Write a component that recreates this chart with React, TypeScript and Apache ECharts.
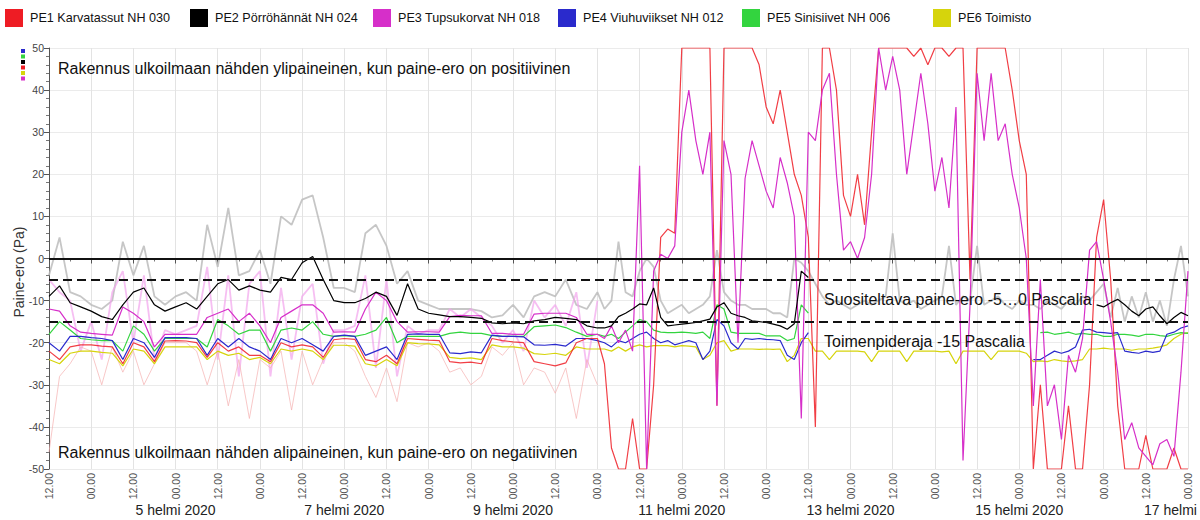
import { useEffect, useRef } from "react";
import * as echarts from "echarts";

// hours from 3 Feb 2020 12:00
const hoursEarly = [0,3,6,9,12,15,18,21,24,27,30,33,36,39,42,45,48,51,54,57,60,63,66,69,72,75,78,81,84,87,90,93,96,99,102,105,108,111,114,117,120,123,126,129,132,135,138,141,144,147,150,153,156];
const hoursLate = [158,160,162,164,166,168,170,172,174,176,178,180,182,184,186,188,190,192,194,196,198,200,202,204,206,208,210,212,214,216,218,220,222,224,226,228,230,232,234,236,238,240,242,244,246,248,250,252,254,256,258,260,262,264,266,268,270,272,274,276,278,280,282,284,286,288,290,292,294,296,298,300,302,304,306,308,310,312,314,316,318,320,322,324];

const seriesNames = ["PE1 Karvatassut NH 030", "PE2 Pörröhännät NH 024", "PE3 Tupsukorvat NH 018", "PE4 Viuhuviikset NH 012", "PE5 Sinisiivet NH 006", "PE6 Toimisto"];
const seriesColors = ["#ee1c24", "#000000", "#d62fc9", "#2a2acc", "#33d43f", "#d6d40c"];

const pe1Early = [-22,-24,-21,-20.5,-20.5,-20.8,-21,-25,-20,-21,-24.5,-19.6,-19.5,-19.6,-20,-23.5,-20,-22,-21,-23,-23,-24.5,-20,-21,-20.5,-21,-23.5,-19.3,-19,-19.2,-24,-24.5,-23,-25,-19,-19.2,-19.4,-19.5,-24.5,-24.8,-24.6,-25,-19,-19.5,-19.8,-20,-24.5,-25,-25.5,-24.8,-20,-19,-19];
const pe1Late = [-25,-45,-50,-50,-38,-50,-50,-30,5,7,6,50,50,50,50,50,-35,50,50,50,50,50,46,36,32,40,30,20,15,5,-40,50,50,40,15,10,20,8,30,50,50,50,50,50,48,50,46,50,50,48,50,50,-5,50,50,50,50,50,40,28,20,-50,-30,-50,-50,-50,-35,-50,-50,-30,5,14,-5,-35,-50,-50,-50,-42,-50,-50,-50,-45,-50,-50];

const pe2Early = [-9,-6.5,-10.5,-11.5,-12.5,-13.8,-14.5,-11,-8,-7,-11,-12.5,-11.5,-10.5,-12,-9,-6,-5,-7.5,-6.5,-7.5,-8,-4.5,-5,-1,0.5,-5,-10,-10.5,-10.5,-9.5,-8,-9,-13.5,-6,-12,-13,-13.4,-13.8,-13.8,-14,-14.2,-15.3,-15.5,-15.3,-15.5,-14.8,-14.5,-14,-14.2,-14.5,-16,-16.5];
const pe2Late = [-16.5,-16,-13.8,-13,-12,-10.8,-11,-7,-14,-16,-15.8,-15.6,-15.4,-15.2,-14.8,-14.4,-11.5,-10.5,-13,-13.6,-14,-14.8,-15,-15.2,-15.6,-16,-16.8,-15.5,-3,-4.5,
  null,null,null,null,null,null,null,null,null,null,null,null,null,null,null,null,null,null,null,null,
  null,null,null,null,null,null,null,null,null,null,null,null,null,null,null,null,null,null,null,null,
  -11,-11.5,-10.5,-9.7,-11,-12.5,-13.6,-12,-11.5,-13.6,-15.5,-14,-12.8,-13.6];

const pe3Early = [-12,-12.5,-16,-17.5,-17.8,-18,-18.2,-11.5,-13,-15,-21,-18,-18,-18,-18,-14,-13,-12,-15,-13,-16,-20,-14,-12.5,-11,-11,-13,-17.5,-17.4,-17.5,-12,-8,-10,-15,-17.5,-17.4,-17.4,-17.5,-13.8,-13.5,-13.6,-13.6,-17.8,-17.8,-18,-18,-13.2,-13,-13,-13,-14,-18,-18];
const pe3Late = [-19,-16,-20,-17,-22,22,-50,-3,1,0,3,30,40,28,20,30,-35,28,20,-20,19,28,22,16,12,24,18,10,-38,30,28,40,44,20,2,4,0,5,20,50,40,48,40,20,32,44,32,16,24,12,36,-48,-11,44,28,44,28,32,20,12,0,-35,-5,-35,-30,-43,-23,-27,-19,2,4,-5,-15,-27,-43,-39,-45,-47,-49,-44,-43,-47,-27,-3];

const pe4Early = [-20,-22,-18.5,-18.5,-18.8,-19,-19.5,-24,-19,-20,-23.5,-18.8,-18.8,-18.8,-19,-23,-19,-21,-19,-21,-22,-24,-19,-20,-19,-20.5,-22,-18.5,-18.2,-18.5,-23,-22,-21,-24,-18,-17.9,-18,-18,-22.4,-22.6,-22.2,-22.4,-18.2,-18.5,-18.5,-18.6,-20.5,-20.6,-20.4,-20.8,-19,-19,-19.5];
const pe4Late = [-20,-21,-19.5,-20,-19,-18,-17.5,-19,-20,-19.5,-20.5,-20,-19.5,-20,-24,-22,-14.5,-16,-20,-21.5,-19,-19.2,-19,-19.2,-19.3,-19.5,-23,-24,-20,-17.6,
  null,null,null,null,null,null,null,null,null,null,null,null,null,null,null,null,null,null,null,null,
  null,null,null,null,null,null,null,null,null,null,null,
  -24,-24,-23,-22,-22.5,-22,-21,-17,-16.8,-17.5,-17.6,-17.8,-17.6,-22,-22.3,-22.5,-22,-22.3,-22,-18,-17.5,-16.5,-16];

const pe5Early = [-18,-15,-17,-19,-19.3,-19.5,-19.5,-22,-16,-18,-22,-19,-19,-19,-19,-21,-14.5,-16,-18,-17,-17,-22,-17,-16.5,-17,-15,-18,-18.5,-18.3,-18.5,-18,-17,-14,-20,-18.5,-18.5,-18.5,-18.5,-17.8,-17.5,-17.8,-17.8,-18.3,-18.5,-18.5,-18.5,-16.2,-16,-15.8,-16.4,-17.5,-18.5,-18];
const pe5Late = [-18.5,-18,-19,-17.5,-16,-14.5,-15,-17,-17.5,-17.6,-17.6,-17.5,-17.6,-17.8,-17.5,-19,-11,-12,-17.5,-17.8,-17.8,-17.8,-17.8,-18.4,-18.4,-18.4,-19.5,-19,-11,-13,
  null,null,null,null,null,null,null,null,null,null,null,null,null,null,null,null,null,null,null,null,
  null,null,null,null,null,null,null,null,null,null,null,null,
  -17.6,-17.5,-18,-17.8,-17.5,-18,-17.8,-18,-18,-18.5,-18.5,-18,-18,-18.2,-18.5,-18,-18,-18.3,-18.5,-18,-17.6,-17.8];

const pe6Early = [-24,-25,-22.5,-22,-22,-22.3,-22.5,-25.5,-21.5,-22,-25,-21,-21,-21,-21,-24,-22,-23,-22.5,-24,-23.5,-25,-21.5,-22,-21.5,-22,-24,-20.6,-20.6,-20.8,-25,-25.5,-24,-25.5,-20,-20.2,-20.3,-20.5,-23.5,-23.8,-23.6,-24,-20.5,-21,-21,-21.3,-22.6,-22.8,-22.5,-23,-21,-21.5,-21.5];
const pe6Late = [-21.5,-22,-21,-22,-21,-20.5,-21,-20.7,-20.7,-20.7,-21,-20.7,-20.8,-21,-24,-23,-20,-19.5,-22,-21.5,-21.5,-21.5,-21.6,-21.5,-21.6,-21.5,-24.5,-23,-19,-19,-22,-22,-24,-22,-22,-22,-22,-22.2,-24.5,-22,-22,-22,-22,-24.5,-22,-22,-22,-22,-22.2,-22,-25,-22,-22,-22,-22,-24,-22,-22,-22,-22,-22.5,-24.5,-24.3,-24.5,-24,-24.3,-24.5,-24.3,-24,-21.5,-21.5,-21.3,-21.5,-21.5,-21.5,-21.8,-21.5,-21.5,-21.3,-21,-20.5,-19,-18,-17.6];

// faint raw readings
const pe2RawEarly = [-4,5,-8,-9,-11,-12,-10,4,-4,3,-9,-11,-9,-8,-10,8,-2,12,-4,-3,2,-6,10,8,14,15,5,-7,-7,-8,6,8,3,-6,-3,-10,-11,-12,-12,-12,-12,-12.5,-14,-13.5,-11,-14,-9,-8,-9,-5,-11,-12,-8];
const pe2RawLate = [-12,-10,4,-8,-9,-3,0,-2,-10,-13,-12,-11,-13,-12,-11,-9,2,-8,-10,-11,-11,-12,-12,-12,-13,-13,-14,0,-1,-3,-6,-9,-11,-10,-11,-12,-11,-10,-11,-10,-9,6,-10,-11,-10,-12,-11,-10,-9,3,-11,-9,-10,3,-11,-10,-9,-11,-12,-10,-11,-11,-12,-10,-11,-12,-10,-11,-9,-10,-8,-6,-14,-7,-15,-9,-14,-8,-15,-10,-16,-5,3,-9];
const pe3RawEarly = [-5,-8,-10,-22,-15,-24,-8,-3,-20,-4,-24,-17,-18,-17,-16,-2,-24,-4,-28,-6,-3,-28,-7,-24,-9,-6,-25,-17,-17,-16,-4,-26,-5,-28,-16,-18,-17,-17,-12,-14,-12,-14,-16,-20,-17,-22,-10,-14,-11,-16,-8,-26,-10];
const pe1RawEarly = [-46,-28,-25,-21,-22,-30,-21,-27,-22,-30,-25,-20,-20,-20,-22,-30,-22,-35,-24,-38,-24,-26,-22,-36,-22,-30,-24,-20,-20,-22,-28,-33,-26,-34,-20,-21,-20,-22,-27,-26,-30,-28,-21,-23,-20,-30,-26,-27,-32,-26,-38,-24,-30];

const dateTickHours = [36, 84, 132, 180, 228, 276, 324];
const dateTickLabels = ["5 helmi 2020", "7 helmi 2020", "9 helmi 2020", "11 helmi 2020", "13 helmi 2020", "15 helmi 2020", "17 helmi 2020"];

const refLines = [0, -5, -15];
const noteTexts = [
  "Rakennus ulkoilmaan nähden ylipaineinen, kun paine-ero on positiivinen",
  "Rakennus ulkoilmaan nähden alipaineinen, kun paine-ero on negatiivinen",
  "Suositeltava paine-ero -5…0 Pascalia",
  "Toimenpideraja -15 Pascalia",
];

const FONT = "'Liberation Sans', Arial, sans-serif";

function pairs(hrs: number[], vals: (number | null)[]) {
  return hrs.map((h, i) => [h, vals[i] === null || vals[i] === undefined ? "-" : vals[i]]);
}

const allHours = hoursEarly.concat(hoursLate);

function buildOption() {
  const mainData = [
    pairs(allHours, pe6Early.concat(pe6Late)),
    pairs(allHours, pe5Early.concat(pe5Late)),
    pairs(allHours, pe4Early.concat(pe4Late)),
    pairs(allHours, pe1Early.concat(pe1Late)),
    pairs(allHours, pe3Early.concat(pe3Late)),
    pairs(allHours, (pe2Early as (number | null)[]).concat(pe2Late)),
  ];
  const mainIdx = [5, 4, 3, 0, 2, 1];

  const rawSeries = [
    { name: "PE2 raw", color: "#bcbcbc", width: 1.8, opacity: 0.85, data: pairs(allHours, pe2RawEarly.concat(pe2RawLate)) },
    { name: "PE3 raw", color: "#f2a4ec", width: 1.8, opacity: 0.7, data: pairs(hoursEarly, pe3RawEarly) },
    { name: "PE1 raw", color: "#f5b0b0", width: 1, opacity: 0.7, data: pairs(hoursEarly, pe1RawEarly) },
  ].map((s) => ({
    name: s.name,
    type: "line",
    data: s.data,
    showSymbol: false,
    symbol: "none",
    silent: true,
    lineStyle: { color: s.color, width: s.width, opacity: s.opacity },
    z: 1,
  }));

  const main = mainData.map((d, k) => ({
    name: seriesNames[mainIdx[k]],
    type: "line",
    data: d,
    showSymbol: false,
    symbol: "none",
    silent: true,
    lineStyle: { color: seriesColors[mainIdx[k]], width: 1.2, opacity: mainIdx[k] === 0 ? 0.85 : 1 },
    z: 2,
  }));

  const markSeries = {
    name: "ref",
    type: "line",
    data: [],
    silent: true,
    z: 5,
    markLine: {
      silent: true,
      symbol: ["none", "none"],
      label: { show: false },
      data: refLines.map((v) => ({
        yAxis: v,
        lineStyle: { color: "#111", width: 2, type: v === 0 ? "solid" : [9, 5] },
      })),
    },
  };

  const legendX = [5, 190, 373, 558, 742, 933];
  const legendGraphics: any[] = [];
  seriesNames.forEach((n, i) => {
    legendGraphics.push({ type: "rect", left: legendX[i], top: 9, shape: { width: 18, height: 18 }, style: { fill: seriesColors[i] }, silent: true });
    legendGraphics.push({ type: "text", left: legendX[i] + 25, top: 11, style: { text: n, font: `12.6px ${FONT}`, fill: "#111" }, silent: true });
  });

  const miniOrder = [3, 4, 1, 0, 5, 2];
  const miniGraphics = miniOrder.map((ci, j) => ({
    type: "rect", left: 21, top: 49 + j * 5.5, shape: { width: 4, height: 4 }, style: { fill: seriesColors[ci] }, silent: true,
  }));

  const notes = [
    { x: 58, y: 68, t: noteTexts[0] },
    { x: 58, y: 452, t: noteTexts[1] },
    { x: 824, y: 299, t: noteTexts[2] },
    { x: 824, y: 341, t: noteTexts[3] },
  ].map((n) => ({
    type: "text", x: n.x, y: n.y, z: 20,
    style: { text: n.t, font: `16px ${FONT}`, fill: "#111", textVerticalAlign: "middle", verticalAlign: "middle" },
    silent: true,
  }));

  const yName = {
    type: "text", x: 18.5, y: 272, rotation: Math.PI / 2, z: 20,
    style: { text: "Paine-ero (Pa)", font: `14px ${FONT}`, fill: "#333", align: "center", verticalAlign: "middle", textAlign: "center", textVerticalAlign: "middle" },
    silent: true,
  };

  return {
    animation: false,
    backgroundColor: "#ffffff",
    grid: { left: 49, right: 12, top: 48, bottom: 51, containLabel: false, outerBoundsMode: "none" },
    xAxis: [
      {
        type: "value", min: 0, max: 324, interval: 12,
        axisLine: { show: true, lineStyle: { color: "#555", width: 1 } },
        axisTick: { show: true, length: 5, lineStyle: { color: "#555" } },
        minorTick: { show: true, splitNumber: 2, length: 3, lineStyle: { color: "#777" } },
        splitLine: { show: true, lineStyle: { color: "#e3e3e3", width: 1 } },
        axisLabel: {
          rotate: 90, margin: 4, fontSize: 10.5, color: "#555", fontFamily: FONT, showMaxLabel: true,
          formatter: (v: number) => (v % 24 === 0 ? "12.00" : "00.00"),
        },
      },
      {
        type: "value", min: 0, max: 324, interval: 12, position: "bottom",
        axisLine: { show: false }, axisTick: { show: false }, splitLine: { show: false },
        axisLabel: {
          margin: 34, fontSize: 14, color: "#222", fontFamily: FONT, showMaxLabel: true,
          formatter: (v: number) => {
            const k = dateTickHours.indexOf(v);
            return k >= 0 ? dateTickLabels[k] : "";
          },
        },
      },
    ],
    yAxis: {
      type: "value", min: -50, max: 50, interval: 10,
      axisLine: { show: true, lineStyle: { color: "#555", width: 1 } },
      axisTick: { show: true, length: 5, lineStyle: { color: "#555" } },
      minorTick: { show: true, splitNumber: 5, length: 3, lineStyle: { color: "#777" } },
      splitLine: { show: true, lineStyle: { color: "#ebebeb", width: 1 } },
      axisLabel: { fontSize: 10.5, color: "#444", fontFamily: FONT, margin: 5 },
    },
    series: [...rawSeries, ...main, markSeries],
    graphic: [...legendGraphics, ...miniGraphics, ...notes, yName],
  };
}

export default function App() {
  const ref = useRef<HTMLDivElement>(null);
  useEffect(() => {
    if (!ref.current) return;
    const chart = echarts.init(ref.current, null, { renderer: "svg" });
    chart.setOption(buildOption() as any);
    return () => chart.dispose();
  }, []);
  return (
    <div
      ref={ref}
      style={{ position: "absolute", left: 0, top: 0, width: 1200, height: 520, background: "#fff" }}
    />
  );
}
